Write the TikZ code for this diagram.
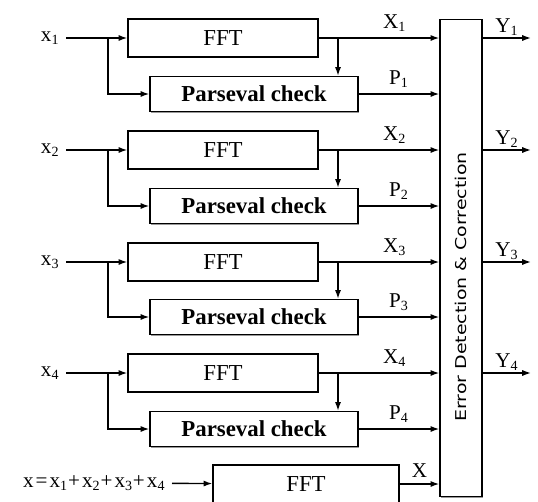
\documentclass[tikz,border=0pt]{standalone}
\usepackage{fontspec}
\setmainfont{Liberation Serif}
\newfontfamily\edcfont{DejaVu Sans Condensed}
\usetikzlibrary{arrows.meta,shadows}

\tikzset{
  blk/.style={draw, thick, fill=white, font=\fontsize{13}{15}\selectfont,
    drop shadow={shadow xshift=0.7pt, shadow yshift=-0.7pt, fill=black!50, opacity=0.8}},
  fftblk/.style={blk, minimum width=3.8cm, minimum height=0.76cm},
  pcblk/.style={blk, minimum width=4.16cm, minimum height=0.70cm, font=\fontsize{13}{15}\selectfont\bfseries},
  lbl/.style={font=\fontsize{12}{14}\selectfont},
}

\begin{document}
\begin{tikzpicture}[x=0.02cm, y=-0.02cm, thick, >={Latex[length=5pt,width=3.5pt]}]
    \useasboundingbox (0,0) rectangle (538,501);

    % error detection block
    \node[blk, minimum width=0.84cm, minimum height=9.54cm] (edc) at (461,258) {};
    \node[rotate=90, font=\edcfont\fontsize{10}{12}\selectfont] (edct) at (461,287)
      {\scalebox{1.2}[0.85]{Error Detection \& Correction}};

    % inputs
    \node[lbl, anchor=east] (x1) at (66,38) {x\textsubscript{1}};
    \node[lbl, anchor=east] (x2) at (66,150) {x\textsubscript{2}};
    \node[lbl, anchor=east] (x3) at (66,262) {x\textsubscript{3}};
    \node[lbl, anchor=east] (x4) at (66,373) {x\textsubscript{4}};
    \node[lbl, anchor=east, font=\fontsize{12}{14}\selectfont\addfontfeature{LetterSpace=10}] (xs) at (172,483)
      {x=x\textsubscript{1}+x\textsubscript{2}+x\textsubscript{3}+x\textsubscript{4}};

    % blocks
    \node[fftblk] (fft1) at (223,38) {FFT};
    \node[pcblk] (pc1) at (254,94) {Parseval check};
    \node[fftblk] (fft2) at (223,150) {FFT};
    \node[pcblk] (pc2) at (254,206) {Parseval check};
    \node[fftblk] (fft3) at (223,262) {FFT};
    \node[pcblk] (pc3) at (254,317) {Parseval check};
    \node[fftblk] (fft4) at (223,373) {FFT};
    \node[pcblk] (pc4) at (254,429) {Parseval check};
    \node[fftblk, minimum width=3.72cm] (fft5) at (306,484) {FFT};

    % branch points
    \coordinate (s1) at (108,38);
    \coordinate (s2) at (108,150);
    \coordinate (s3) at (108,262);
    \coordinate (s4) at (108,373);
    \coordinate (t1) at (338,38);
    \coordinate (t2) at (338,150);
    \coordinate (t3) at (338,262);
    \coordinate (t4) at (338,373);
    \coordinate (y1) at (531,38);
    \coordinate (y2) at (531,150);
    \coordinate (y3) at (531,262);
    \coordinate (y4) at (531,373);

    \draw[->] (x1) -- (fft1);
    \draw[->] (s1) |- (pc1);
    \draw[->] (x2) -- (fft2);
    \draw[->] (s2) |- (pc2);
    \draw[->] (x3) -- (fft3);
    \draw[->] (s3) |- (pc3);
    \draw[->] (x4) -- (fft4);
    \draw[->] (s4) |- (pc4);
    \draw[->] (xs) -- (fft5);

    \draw[->] (t1) -- (t1 |- pc1.north);
    \draw[->] (t2) -- (t2 |- pc2.north);
    \draw[->] (t3) -- (t3 |- pc3.north);
    \draw[->] (t4) -- (t4 |- pc4.north);

    \draw[->] (fft1) -- (fft1 -| edc.west) node[lbl, pos=0.63, above] {X\textsubscript{1}};
    \draw[->] (pc1) -- (pc1 -| edc.west) node[lbl, midway, above] {P\textsubscript{1}};
    \draw[->] (fft2) -- (fft2 -| edc.west) node[lbl, pos=0.63, above] {X\textsubscript{2}};
    \draw[->] (pc2) -- (pc2 -| edc.west) node[lbl, midway, above] {P\textsubscript{2}};
    \draw[->] (fft3) -- (fft3 -| edc.west) node[lbl, pos=0.63, above] {X\textsubscript{3}};
    \draw[->] (pc3) -- (pc3 -| edc.west) node[lbl, midway, above] {P\textsubscript{3}};
    \draw[->] (fft4) -- (fft4 -| edc.west) node[lbl, pos=0.63, above] {X\textsubscript{4}};
    \draw[->] (pc4) -- (pc4 -| edc.west) node[lbl, midway, above] {P\textsubscript{4}};
    \draw[->] (fft5) -- (fft5 -| edc.west) node[lbl, midway, above] {X};

    \draw[->] (edc.east |- y1) -- (y1) node[lbl, midway, above, inner sep=1pt] {Y\textsubscript{1}};
    \draw[->] (edc.east |- y2) -- (y2) node[lbl, midway, above, inner sep=1pt] {Y\textsubscript{2}};
    \draw[->] (edc.east |- y3) -- (y3) node[lbl, midway, above, inner sep=1pt] {Y\textsubscript{3}};
    \draw[->] (edc.east |- y4) -- (y4) node[lbl, midway, above, inner sep=1pt] {Y\textsubscript{4}};
  \end{tikzpicture}
\end{document}
